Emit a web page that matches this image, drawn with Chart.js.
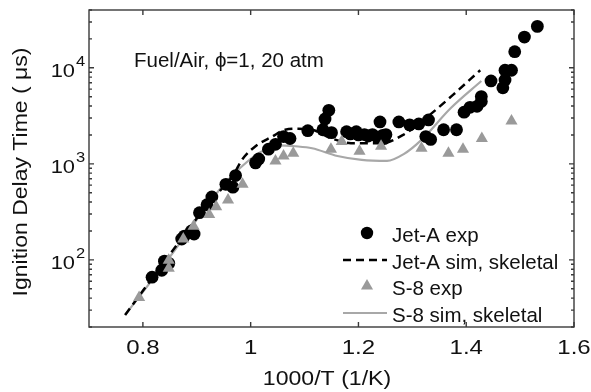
<!DOCTYPE html>
<html><head><meta charset="utf-8">
<script src="https://cdn.jsdelivr.net/npm/chart.js@4/dist/chart.umd.min.js"></script>
<style>html,body{margin:0;padding:0;background:#fff}#wrap{width:591px;height:392px}</style>
</head><body><div id="wrap"><canvas id="c" width="591" height="392"></canvas></div>
<script>
// ---- data ----
const jetAExpX = [0.817,0.835,0.840,0.848,0.872,0.877,0.890,0.895,0.905,0.919,0.928,0.954,0.967,0.972,1.009,1.015,1.033,1.046,1.061,1.073,1.106,1.134,1.138,1.145,1.150,1.178,1.196,1.211,1.226,1.240,1.251,1.248,1.275,1.295,1.312,1.330,1.325,1.334,1.358,1.382,1.396,1.407,1.420,1.428,1.428,1.446,1.468,1.472,1.472,1.484,1.490,1.508,1.532,1.185,1.200,1.218,1.235,1.245];
const jetAExpY = [66,78,97,92,165,177,200,186,310,375,452,612,571,755,1024,1124,1420,1596,1923,1836,2214,2266,2930,3612,2113,2163,2163,2017,2017,2734,2017,1836,2734,2546,2606,2864,1923,1795,2266,2266,3450,3880,3971,5014,4466,7296,6197,7466,9435,9435,14720,20900,27000,2050,2000,1950,1900,1980];

const s8ExpX = [0.793,0.848,0.848,0.875,0.894,0.923,0.936,0.958,0.985,1.046,1.061,1.079,1.149,1.169,1.202,1.242,1.317,1.367,1.394,1.429,1.484];
const s8ExpY = [40.6,99,82,165,224,296,357,421,612,1073,1206,1293,1420,1713,1355,1524,1453,1293,1420,1836,2800];

const jetASimX = [0.767,0.844,0.917,0.941,0.967,0.985,1.009,1.040,1.064,1.088,1.114,1.150,1.193,1.242,1.284,1.334,1.376,1.426];
const jetASimY = [26.7,103,357,508,755,1124,1524,1923,2266,2319,2266,1836,1634,1634,2017,3296,5260,9440];

const s8SimX = [0.767,0.844,0.949,0.985,1.015,1.051,1.083,1.114,1.161,1.206,1.253,1.284,1.316,1.371,1.428];
const s8SimY = [26.7,97,598,955,1293,1560,1524,1453,1206,1098,1073,1263,1755,3794,7296];

const xTickValues = [0.8, 1, 1.2, 1.4, 1.6];
const xTickLabels = ['0.8', '1', '1.2', '1.4', '1.6'];
const yDecades = [100, 1000, 10000];
const yDecadeExps = ['2', '3', '4'];
const xRange = [0.7, 1.6];
const yRange = [20, 40000];

const seriesLabels = ['Jet-A exp', 'Jet-A sim, skeletal', 'S-8 exp', 'S-8 sim, skeletal'];
const xTitle = '1000/T (1/K)';
const yTitle = 'Ignition Delay Time ( \u03BCs)';
const note = 'Fuel/Air, \u03D5=1, 20 atm';

// ---- build ----
const zip = (xs, ys) => xs.map((x, i) => ({x: x, y: ys[i]}));
const FONT = '"Liberation Sans", Arial, sans-serif';
const GRAY_PT = '#9a9a9a';
const GRAY_LN = '#a8a8a8';
const AXC = '#3a3a3a';

const datasets = [
  {label: seriesLabels[2], data: zip(s8ExpX, s8ExpY), showLine: false, pointStyle: 'triangle',
   pointRadius: 7, backgroundColor: GRAY_PT, borderColor: GRAY_PT, borderWidth: 0, order: 0},
  {label: seriesLabels[0], data: zip(jetAExpX, jetAExpY), showLine: false, pointStyle: 'circle',
   pointRadius: 6.4, backgroundColor: '#000', borderColor: '#000', borderWidth: 0, order: 1},
  {label: seriesLabels[1], data: zip(jetASimX, jetASimY), showLine: true, pointRadius: 0,
   borderColor: '#000', borderWidth: 2.5, borderDash: [8, 5], tension: 0.35, cubicInterpolationMode: 'monotone', order: 2},
  {label: seriesLabels[3], data: zip(s8SimX, s8SimY), showLine: true, pointRadius: 0,
   borderColor: GRAY_LN, borderWidth: 2.2, tension: 0.35, cubicInterpolationMode: 'monotone', order: 3}
];

function txt(ctx, s, x, y, size, align, sx, rot) {
  ctx.save();
  ctx.translate(x, y);
  if (rot) ctx.rotate(rot);
  ctx.scale(sx, 1);
  ctx.font = size + 'px ' + FONT;
  ctx.textAlign = align;
  ctx.textBaseline = 'alphabetic';
  ctx.fillText(s, 0, 0);
  ctx.restore();
}

const deco = {
  id: 'deco',
  afterDraw(chart) {
    const ctx = chart.ctx, a = chart.chartArea;
    const xs = chart.scales.x, ys = chart.scales.y;
    ctx.save();
    ctx.fillStyle = '#111';
    // frame
    ctx.strokeStyle = AXC; ctx.lineWidth = 1.4;
    ctx.strokeRect(a.left, a.top, a.right - a.left, a.bottom - a.top);
    // x ticks + labels
    xTickValues.forEach((v, i) => {
      const p = xs.getPixelForValue(v);
      ctx.beginPath();
      ctx.moveTo(p, a.bottom); ctx.lineTo(p, a.bottom - 5);
      ctx.moveTo(p, a.top); ctx.lineTo(p, a.top + 5);
      ctx.stroke();
      txt(ctx, xTickLabels[i], p, a.bottom + 27, 20, 'center', 1.2);
    });
    // y ticks
    const [ymin, ymax] = yRange;
    for (let d = 10; d <= ymax; d *= 10) {
      for (let m = 1; m <= 9; m++) {
        const v = d * m;
        if (v < ymin || v > ymax) continue;
        const p = ys.getPixelForValue(v);
        const len = m === 1 ? 5 : 3;
        ctx.beginPath();
        ctx.moveTo(a.left, p); ctx.lineTo(a.left + len, p);
        ctx.moveTo(a.right, p); ctx.lineTo(a.right - len, p);
        ctx.stroke();
      }
    }
    // y labels 10^n
    yDecades.forEach((v, i) => {
      const p = ys.getPixelForValue(v);
      txt(ctx, '10', a.left - 14, p + 9, 19, 'right', 1.15);
      txt(ctx, yDecadeExps[i], a.left - 13, p - 2, 15, 'left', 1.1);
    });
    // axis titles
    txt(ctx, xTitle, 327, 385, 21, 'center', 1.1);
    txt(ctx, yTitle, 27, 172, 20, 'center', 1.15, -Math.PI / 2);
    // annotation
    txt(ctx, note, 134, 67, 20.5, 'left', 1);
    // legend
    const rows = [233, 260, 286, 313];
    const sx = 343, ex = 387, cx = 367, tx = 392;
    ctx.fillStyle = '#000';
    ctx.beginPath(); ctx.arc(cx, rows[0], 6.2, 0, Math.PI * 2); ctx.fill();
    ctx.strokeStyle = '#000'; ctx.lineWidth = 2.5; ctx.setLineDash([8, 5]);
    ctx.beginPath(); ctx.moveTo(sx, rows[1]); ctx.lineTo(ex, rows[1]); ctx.stroke();
    ctx.setLineDash([]);
    ctx.fillStyle = GRAY_PT;
    const r = 7;
    ctx.beginPath();
    ctx.moveTo(cx, rows[2] - r);
    ctx.lineTo(cx + r * 0.866, rows[2] + r * 0.5);
    ctx.lineTo(cx - r * 0.866, rows[2] + r * 0.5);
    ctx.closePath(); ctx.fill();
    ctx.strokeStyle = GRAY_LN; ctx.lineWidth = 2.2;
    ctx.beginPath(); ctx.moveTo(sx, rows[3]); ctx.lineTo(ex, rows[3]); ctx.stroke();
    ctx.fillStyle = '#111';
    rows.forEach((ry, i) => txt(ctx, seriesLabels[i], tx, ry + 8.5, 20.5, 'left', 1));
    ctx.restore();
  }
};

new Chart(document.getElementById('c'), {
  type: 'scatter',
  data: {datasets: datasets},
  options: {
    responsive: false, animation: false, devicePixelRatio: 1,
    layout: {padding: {left: 81, right: 17, top: 10, bottom: 57}},
    plugins: {legend: {display: false}, tooltip: {enabled: false}},
    scales: {
      x: {type: 'linear', min: xRange[0], max: xRange[1],
          ticks: {display: false}, grid: {display: false}, border: {display: false}},
      y: {type: 'logarithmic', min: yRange[0], max: yRange[1],
          ticks: {display: false}, grid: {display: false}, border: {display: false}}
    }
  },
  plugins: [deco]
});
</script></body></html>
